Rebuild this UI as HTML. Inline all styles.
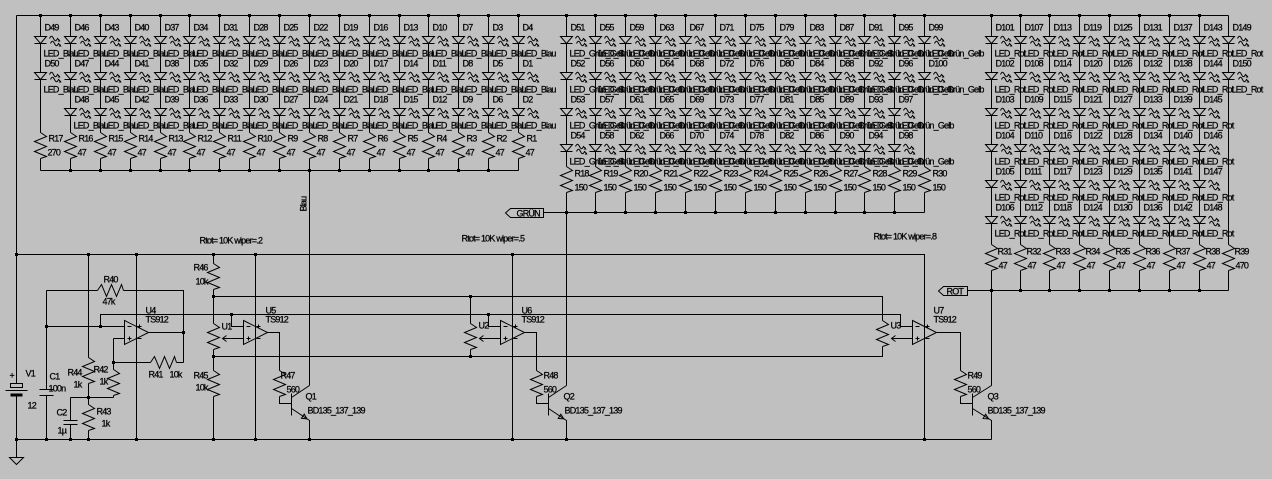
<!DOCTYPE html>
<html><head><meta charset="utf-8"><style>
html,body{margin:0;padding:0;background:#c0c0c0;width:1272px;height:479px;overflow:hidden}
svg{display:block}
text{font-family:"Liberation Sans",sans-serif;font-size:9px;letter-spacing:-0.8px;fill:#000;stroke:#000;stroke-width:0.25}
.w{fill:none;stroke:#000;stroke-width:1}
</style></head><body>
<svg width="1272" height="479" viewBox="0 0 1272 479" xmlns="http://www.w3.org/2000/svg">
<rect width="1272" height="479" fill="#c0c0c0"/>
<defs>
<g id="L"><path d="M-6,0H6L0,7Z" fill="#c0c0c0" stroke="#000"/><path d="M-6,7H6" stroke="#000"/><path d="M9,2c1.5,-3 2.5,-3 4,0s2.5,3 4,0l2,2" fill="none" stroke="#000"/><path d="M20,5h-3l2,-2z" fill="#000"/><path d="M10,7c1.5,-3 2.5,-3 4,0s2.5,3 4,0l2,2" fill="none" stroke="#000"/><path d="M21,10h-3l2,-2z" fill="#000"/></g>
<path id="R" d="M0,0l6,4l-12,5l12,5l-12,5l12,5l-6,2" fill="none" stroke="#000"/>
<path id="RH" d="M0,0l4,-6l5,12l5,-12l5,12l5,-12l2,6" fill="none" stroke="#000"/>
<g id="OA" fill="none" stroke="#000"><path d="M0,-12L24,0L0,12Z"/><path d="M3,-6h4M3,6h4M5,4v4M13,-6h4M15,-8v4M13,6h4"/></g>
<rect id="j" x="-1.5" y="-1.5" width="3" height="3" fill="#000"/>
</defs>
<g transform="translate(0.5 0.5)">
<path class="w" d="M16,15H1228M16,15V383M16,396V457M9,457H23L16,464ZM16,254H924V439M16,439H991M40,170H518M543,212H924M967,290H1228M309,170V385M566,212V385M991,290V385"/>
<path class="w" d="M5,390H27"/><rect x="10" y="383" width="12" height="4" fill="none" stroke="#000"/><rect x="10" y="393" width="12" height="3" fill="#000"/>
<path class="w" d="M46,290V389M39,389H53M39,395H53M46,395V439M46,290H97M123,290H183V362M46,326H124M100,326V314H900V326H912M231,314V326H243M488,314V326H500M113,338H124M113,338V369M113,395V397M113,362H150M176,362H183M148,332H183M70,397H113M88,254V357M88,383V404M88,430V439M70,397V420M63,420H77M63,424H77M70,424V439M136,254V439"/>
<path class="w" d="M213,254V263M213,289V323M213,349V370M213,396V439M213,296H882V320M882,346V356H213M470,296V323M470,349V356M255,254V439M512,254V439M222,338H243M479,338H500M891,338H912M226,335L222,338L226,341M483,335L479,338L483,341M895,335L891,338L895,341"/>
<path class="w" d="M267,332H279V370M279,396V403H291M524,332H536V370M536,396V403H548M936,332H960V370M960,396V403H972"/>
<path class="w" d="M291,393V415M291,397L309,385M291,408L309,420V439M548,393V415M548,397L566,385M548,408L566,420V439M972,393V415M972,397L991,385M972,408L991,420V439"/>
<path class="w" d="M306.5,418.4L300.9,417.8L303.7,413.6ZM563.3,418.4L557.7,417.9L560.3,413.7ZM988.2,418.4L982.6,418.1L985.1,413.7Z"/>
<path class="w" d="M505,212.5L510,208H543V217H510Z"/><text x="516" y="216">GRÜN</text>
<path class="w" d="M938,290.5L943,286H967V295H943Z"/><text x="946" y="294">ROT</text>
<use href="#RH" x="97" y="290"/><use href="#RH" x="150" y="362"/>
<use href="#R" x="88" y="357"/><use href="#R" x="113" y="369"/><use href="#R" x="88" y="404"/>
<use href="#R" x="213" y="263"/><use href="#R" x="213" y="323"/><use href="#R" x="213" y="370"/>
<use href="#R" x="470" y="323"/><use href="#R" x="882" y="320"/>
<use href="#R" x="279" y="370"/><use href="#R" x="536" y="370"/><use href="#R" x="960" y="370"/>
<use href="#OA" x="124" y="332"/><use href="#OA" x="243" y="332"/><use href="#OA" x="500" y="332"/><use href="#OA" x="912" y="332"/>

<text x="9" y="378">+</text><text x="25" y="376">V1</text><text x="27" y="408">12</text>
<text x="49" y="379">C1</text><text x="48" y="391">100n</text>
<text x="56" y="415">C2</text><text x="57" y="433">1&#181;</text>
<text x="67" y="375">R44</text><text x="73" y="387">1k</text>
<text x="93" y="372">R42</text><text x="99" y="384">1k</text>
<text x="96" y="414">R43</text><text x="101" y="426">1k</text>
<text x="103" y="282">R40</text><text x="102" y="304">47k</text>
<text x="148" y="377">R41</text><text x="169" y="377">10k</text>
<text x="145" y="313">U4</text><text x="145" y="322">TS912</text>
<text x="265" y="313">U5</text><text x="265" y="322">TS912</text>
<text x="521" y="313">U6</text><text x="521" y="322">TS912</text>
<text x="933" y="313">U7</text><text x="933" y="322">TS912</text>
<text x="221" y="329">U1</text><text x="478" y="328">U2</text><text x="890" y="328">U3</text>
<text x="193" y="270">R46</text><text x="195" y="284">10k</text>
<text x="193" y="378">R45</text><text x="195" y="390">10k</text>
<text x="280" y="378">R47</text><text x="286" y="392">560</text>
<text x="543" y="378">R48</text><text x="543" y="392">560</text>
<text x="967" y="378">R49</text><text x="967" y="392">560</text>
<text x="305" y="399">Q1</text><text x="307" y="413">BD135_137_139</text>
<text x="563" y="399">Q2</text><text x="564" y="413">BD135_137_139</text>
<text x="987" y="399">Q3</text><text x="987" y="413">BD135_137_139</text>
<text x="199" y="243">Rtot= 10K wiper=.2</text>
<text x="461" y="241">Rtot= 10K wiper=.5</text>
<text x="873" y="239">Rtot= 10K wiper=.8</text>
<text transform="translate(306 211) rotate(-90)">Blau</text>

<g>
<use href="#j" x="40" y="15"/><use href="#j" x="70" y="15"/><use href="#j" x="100" y="15"/><use href="#j" x="130" y="15"/><use href="#j" x="160" y="15"/><use href="#j" x="189" y="15"/><use href="#j" x="219" y="15"/><use href="#j" x="249" y="15"/><use href="#j" x="279" y="15"/><use href="#j" x="309" y="15"/><use href="#j" x="339" y="15"/><use href="#j" x="369" y="15"/><use href="#j" x="399" y="15"/><use href="#j" x="428" y="15"/><use href="#j" x="458" y="15"/><use href="#j" x="488" y="15"/><use href="#j" x="518" y="15"/>
<use href="#j" x="566" y="15"/><use href="#j" x="595" y="15"/><use href="#j" x="625" y="15"/><use href="#j" x="655" y="15"/><use href="#j" x="685" y="15"/><use href="#j" x="715" y="15"/><use href="#j" x="745" y="15"/><use href="#j" x="775" y="15"/><use href="#j" x="805" y="15"/><use href="#j" x="835" y="15"/><use href="#j" x="864" y="15"/><use href="#j" x="894" y="15"/><use href="#j" x="924" y="15"/>
<use href="#j" x="991" y="15"/><use href="#j" x="1020" y="15"/><use href="#j" x="1049" y="15"/><use href="#j" x="1079" y="15"/><use href="#j" x="1109" y="15"/><use href="#j" x="1139" y="15"/><use href="#j" x="1169" y="15"/><use href="#j" x="1199" y="15"/>
<use href="#j" x="70" y="170"/><use href="#j" x="100" y="170"/><use href="#j" x="130" y="170"/><use href="#j" x="160" y="170"/><use href="#j" x="189" y="170"/><use href="#j" x="219" y="170"/><use href="#j" x="249" y="170"/><use href="#j" x="279" y="170"/><use href="#j" x="309" y="170"/><use href="#j" x="339" y="170"/><use href="#j" x="369" y="170"/><use href="#j" x="399" y="170"/><use href="#j" x="428" y="170"/><use href="#j" x="458" y="170"/><use href="#j" x="488" y="170"/>
<use href="#j" x="566" y="212"/><use href="#j" x="595" y="212"/><use href="#j" x="625" y="212"/><use href="#j" x="655" y="212"/><use href="#j" x="685" y="212"/><use href="#j" x="715" y="212"/><use href="#j" x="745" y="212"/><use href="#j" x="775" y="212"/><use href="#j" x="805" y="212"/><use href="#j" x="835" y="212"/><use href="#j" x="864" y="212"/><use href="#j" x="894" y="212"/>
<use href="#j" x="991" y="290"/><use href="#j" x="1020" y="290"/><use href="#j" x="1049" y="290"/><use href="#j" x="1079" y="290"/><use href="#j" x="1109" y="290"/><use href="#j" x="1139" y="290"/><use href="#j" x="1169" y="290"/><use href="#j" x="1199" y="290"/>
<use href="#j" x="16" y="254"/><use href="#j" x="88" y="254"/><use href="#j" x="136" y="254"/><use href="#j" x="213" y="254"/><use href="#j" x="255" y="254"/><use href="#j" x="512" y="254"/>
<use href="#j" x="213" y="296"/><use href="#j" x="470" y="296"/><use href="#j" x="231" y="314"/><use href="#j" x="488" y="314"/><use href="#j" x="213" y="356"/><use href="#j" x="470" y="356"/>
<use href="#j" x="46" y="326"/><use href="#j" x="100" y="326"/><use href="#j" x="183" y="332"/><use href="#j" x="113" y="362"/><use href="#j" x="88" y="397"/>
<use href="#j" x="16" y="439"/><use href="#j" x="46" y="439"/><use href="#j" x="70" y="439"/><use href="#j" x="88" y="439"/><use href="#j" x="136" y="439"/><use href="#j" x="213" y="439"/><use href="#j" x="255" y="439"/><use href="#j" x="309" y="439"/><use href="#j" x="512" y="439"/><use href="#j" x="566" y="439"/><use href="#j" x="924" y="439"/>
</g>

<g transform="translate(40 0)"><path class="w" d="M0,15V132M0,158V170"/><use href="#R" y="132"/><use href="#L" y="36"/><use href="#L" y="72"/><text x="4" y="30">D49</text><text x="3" y="56">LED_Blau</text><text x="4" y="66">D50</text><text x="3" y="92">LED_Blau</text><text x="8" y="141">R17</text><text x="7" y="155">270</text></g>
<g transform="translate(70 0)"><path class="w" d="M0,15V132M0,158V170"/><use href="#R" y="132"/><use href="#L" y="36"/><use href="#L" y="72"/><use href="#L" y="108"/><text x="4" y="30">D46</text><text x="3" y="56">LED_Blau</text><text x="4" y="66">D47</text><text x="3" y="92">LED_Blau</text><text x="4" y="102">D48</text><text x="3" y="128">LED_Blau</text><text x="8" y="141">R16</text><text x="7" y="155">47</text></g>
<g transform="translate(100 0)"><path class="w" d="M0,15V132M0,158V170"/><use href="#R" y="132"/><use href="#L" y="36"/><use href="#L" y="72"/><use href="#L" y="108"/><text x="4" y="30">D43</text><text x="3" y="56">LED_Blau</text><text x="4" y="66">D44</text><text x="3" y="92">LED_Blau</text><text x="4" y="102">D45</text><text x="3" y="128">LED_Blau</text><text x="8" y="141">R15</text><text x="7" y="155">47</text></g>
<g transform="translate(130 0)"><path class="w" d="M0,15V132M0,158V170"/><use href="#R" y="132"/><use href="#L" y="36"/><use href="#L" y="72"/><use href="#L" y="108"/><text x="4" y="30">D40</text><text x="3" y="56">LED_Blau</text><text x="4" y="66">D41</text><text x="3" y="92">LED_Blau</text><text x="4" y="102">D42</text><text x="3" y="128">LED_Blau</text><text x="8" y="141">R14</text><text x="7" y="155">47</text></g>
<g transform="translate(160 0)"><path class="w" d="M0,15V132M0,158V170"/><use href="#R" y="132"/><use href="#L" y="36"/><use href="#L" y="72"/><use href="#L" y="108"/><text x="4" y="30">D37</text><text x="3" y="56">LED_Blau</text><text x="4" y="66">D38</text><text x="3" y="92">LED_Blau</text><text x="4" y="102">D39</text><text x="3" y="128">LED_Blau</text><text x="8" y="141">R13</text><text x="7" y="155">47</text></g>
<g transform="translate(189 0)"><path class="w" d="M0,15V132M0,158V170"/><use href="#R" y="132"/><use href="#L" y="36"/><use href="#L" y="72"/><use href="#L" y="108"/><text x="4" y="30">D34</text><text x="3" y="56">LED_Blau</text><text x="4" y="66">D35</text><text x="3" y="92">LED_Blau</text><text x="4" y="102">D36</text><text x="3" y="128">LED_Blau</text><text x="8" y="141">R12</text><text x="7" y="155">47</text></g>
<g transform="translate(219 0)"><path class="w" d="M0,15V132M0,158V170"/><use href="#R" y="132"/><use href="#L" y="36"/><use href="#L" y="72"/><use href="#L" y="108"/><text x="4" y="30">D31</text><text x="3" y="56">LED_Blau</text><text x="4" y="66">D32</text><text x="3" y="92">LED_Blau</text><text x="4" y="102">D33</text><text x="3" y="128">LED_Blau</text><text x="8" y="141">R11</text><text x="7" y="155">47</text></g>
<g transform="translate(249 0)"><path class="w" d="M0,15V132M0,158V170"/><use href="#R" y="132"/><use href="#L" y="36"/><use href="#L" y="72"/><use href="#L" y="108"/><text x="4" y="30">D28</text><text x="3" y="56">LED_Blau</text><text x="4" y="66">D29</text><text x="3" y="92">LED_Blau</text><text x="4" y="102">D30</text><text x="3" y="128">LED_Blau</text><text x="8" y="141">R10</text><text x="7" y="155">47</text></g>
<g transform="translate(279 0)"><path class="w" d="M0,15V132M0,158V170"/><use href="#R" y="132"/><use href="#L" y="36"/><use href="#L" y="72"/><use href="#L" y="108"/><text x="4" y="30">D25</text><text x="3" y="56">LED_Blau</text><text x="4" y="66">D26</text><text x="3" y="92">LED_Blau</text><text x="4" y="102">D27</text><text x="3" y="128">LED_Blau</text><text x="8" y="141">R9</text><text x="7" y="155">47</text></g>
<g transform="translate(309 0)"><path class="w" d="M0,15V132M0,158V170"/><use href="#R" y="132"/><use href="#L" y="36"/><use href="#L" y="72"/><use href="#L" y="108"/><text x="4" y="30">D22</text><text x="3" y="56">LED_Blau</text><text x="4" y="66">D23</text><text x="3" y="92">LED_Blau</text><text x="4" y="102">D24</text><text x="3" y="128">LED_Blau</text><text x="8" y="141">R8</text><text x="7" y="155">47</text></g>
<g transform="translate(339 0)"><path class="w" d="M0,15V132M0,158V170"/><use href="#R" y="132"/><use href="#L" y="36"/><use href="#L" y="72"/><use href="#L" y="108"/><text x="4" y="30">D19</text><text x="3" y="56">LED_Blau</text><text x="4" y="66">D20</text><text x="3" y="92">LED_Blau</text><text x="4" y="102">D21</text><text x="3" y="128">LED_Blau</text><text x="8" y="141">R7</text><text x="7" y="155">47</text></g>
<g transform="translate(369 0)"><path class="w" d="M0,15V132M0,158V170"/><use href="#R" y="132"/><use href="#L" y="36"/><use href="#L" y="72"/><use href="#L" y="108"/><text x="4" y="30">D16</text><text x="3" y="56">LED_Blau</text><text x="4" y="66">D17</text><text x="3" y="92">LED_Blau</text><text x="4" y="102">D18</text><text x="3" y="128">LED_Blau</text><text x="8" y="141">R6</text><text x="7" y="155">47</text></g>
<g transform="translate(399 0)"><path class="w" d="M0,15V132M0,158V170"/><use href="#R" y="132"/><use href="#L" y="36"/><use href="#L" y="72"/><use href="#L" y="108"/><text x="4" y="30">D13</text><text x="3" y="56">LED_Blau</text><text x="4" y="66">D14</text><text x="3" y="92">LED_Blau</text><text x="4" y="102">D15</text><text x="3" y="128">LED_Blau</text><text x="8" y="141">R5</text><text x="7" y="155">47</text></g>
<g transform="translate(428 0)"><path class="w" d="M0,15V132M0,158V170"/><use href="#R" y="132"/><use href="#L" y="36"/><use href="#L" y="72"/><use href="#L" y="108"/><text x="4" y="30">D10</text><text x="3" y="56">LED_Blau</text><text x="4" y="66">D11</text><text x="3" y="92">LED_Blau</text><text x="4" y="102">D12</text><text x="3" y="128">LED_Blau</text><text x="8" y="141">R4</text><text x="7" y="155">47</text></g>
<g transform="translate(458 0)"><path class="w" d="M0,15V132M0,158V170"/><use href="#R" y="132"/><use href="#L" y="36"/><use href="#L" y="72"/><use href="#L" y="108"/><text x="4" y="30">D7</text><text x="3" y="56">LED_Blau</text><text x="4" y="66">D8</text><text x="3" y="92">LED_Blau</text><text x="4" y="102">D9</text><text x="3" y="128">LED_Blau</text><text x="8" y="141">R3</text><text x="7" y="155">47</text></g>
<g transform="translate(488 0)"><path class="w" d="M0,15V132M0,158V170"/><use href="#R" y="132"/><use href="#L" y="36"/><use href="#L" y="72"/><use href="#L" y="108"/><text x="4" y="30">D3</text><text x="3" y="56">LED_Blau</text><text x="4" y="66">D5</text><text x="3" y="92">LED_Blau</text><text x="4" y="102">D6</text><text x="3" y="128">LED_Blau</text><text x="8" y="141">R2</text><text x="7" y="155">47</text></g>
<g transform="translate(518 0)"><path class="w" d="M0,15V132M0,158V170"/><use href="#R" y="132"/><use href="#L" y="36"/><use href="#L" y="72"/><use href="#L" y="108"/><text x="4" y="30">D4</text><text x="3" y="56">LED_Blau</text><text x="4" y="66">D1</text><text x="3" y="92">LED_Blau</text><text x="4" y="102">D2</text><text x="3" y="128">LED_Blau</text><text x="8" y="141">R1</text><text x="7" y="155">47</text></g>

<g transform="translate(566 0)"><path class="w" d="M0,15V166M0,192V212"/><use href="#R" y="166"/><use href="#L" y="36"/><use href="#L" y="72"/><use href="#L" y="108"/><use href="#L" y="144"/><text x="4" y="30">D51</text><text x="3" y="56">LED_Grün_Gelb</text><text x="4" y="66">D52</text><text x="3" y="92">LED_Grün_Gelb</text><text x="4" y="102">D53</text><text x="3" y="128">LED_Grün_Gelb</text><text x="4" y="138">D54</text><text x="3" y="164">LED_Grün_Gelb</text><text x="8" y="176">R18</text><text x="8" y="190">150</text></g>
<g transform="translate(595 0)"><path class="w" d="M0,15V166M0,192V212"/><use href="#R" y="166"/><use href="#L" y="36"/><use href="#L" y="72"/><use href="#L" y="108"/><use href="#L" y="144"/><text x="4" y="30">D55</text><text x="3" y="56">LED_Grün_Gelb</text><text x="4" y="66">D56</text><text x="3" y="92">LED_Grün_Gelb</text><text x="4" y="102">D57</text><text x="3" y="128">LED_Grün_Gelb</text><text x="4" y="138">D58</text><text x="3" y="164">LED_Grün_Gelb</text><text x="8" y="176">R19</text><text x="8" y="190">150</text></g>
<g transform="translate(625 0)"><path class="w" d="M0,15V166M0,192V212"/><use href="#R" y="166"/><use href="#L" y="36"/><use href="#L" y="72"/><use href="#L" y="108"/><use href="#L" y="144"/><text x="4" y="30">D59</text><text x="3" y="56">LED_Grün_Gelb</text><text x="4" y="66">D60</text><text x="3" y="92">LED_Grün_Gelb</text><text x="4" y="102">D61</text><text x="3" y="128">LED_Grün_Gelb</text><text x="4" y="138">D62</text><text x="3" y="164">LED_Grün_Gelb</text><text x="8" y="176">R20</text><text x="8" y="190">150</text></g>
<g transform="translate(655 0)"><path class="w" d="M0,15V166M0,192V212"/><use href="#R" y="166"/><use href="#L" y="36"/><use href="#L" y="72"/><use href="#L" y="108"/><use href="#L" y="144"/><text x="4" y="30">D63</text><text x="3" y="56">LED_Grün_Gelb</text><text x="4" y="66">D64</text><text x="3" y="92">LED_Grün_Gelb</text><text x="4" y="102">D65</text><text x="3" y="128">LED_Grün_Gelb</text><text x="4" y="138">D66</text><text x="3" y="164">LED_Grün_Gelb</text><text x="8" y="176">R21</text><text x="8" y="190">150</text></g>
<g transform="translate(685 0)"><path class="w" d="M0,15V166M0,192V212"/><use href="#R" y="166"/><use href="#L" y="36"/><use href="#L" y="72"/><use href="#L" y="108"/><use href="#L" y="144"/><text x="4" y="30">D67</text><text x="3" y="56">LED_Grün_Gelb</text><text x="4" y="66">D68</text><text x="3" y="92">LED_Grün_Gelb</text><text x="4" y="102">D69</text><text x="3" y="128">LED_Grün_Gelb</text><text x="4" y="138">D70</text><text x="3" y="164">LED_Grün_Gelb</text><text x="8" y="176">R22</text><text x="8" y="190">150</text></g>
<g transform="translate(715 0)"><path class="w" d="M0,15V166M0,192V212"/><use href="#R" y="166"/><use href="#L" y="36"/><use href="#L" y="72"/><use href="#L" y="108"/><use href="#L" y="144"/><text x="4" y="30">D71</text><text x="3" y="56">LED_Grün_Gelb</text><text x="4" y="66">D72</text><text x="3" y="92">LED_Grün_Gelb</text><text x="4" y="102">D73</text><text x="3" y="128">LED_Grün_Gelb</text><text x="4" y="138">D74</text><text x="3" y="164">LED_Grün_Gelb</text><text x="8" y="176">R23</text><text x="8" y="190">150</text></g>
<g transform="translate(745 0)"><path class="w" d="M0,15V166M0,192V212"/><use href="#R" y="166"/><use href="#L" y="36"/><use href="#L" y="72"/><use href="#L" y="108"/><use href="#L" y="144"/><text x="4" y="30">D75</text><text x="3" y="56">LED_Grün_Gelb</text><text x="4" y="66">D76</text><text x="3" y="92">LED_Grün_Gelb</text><text x="4" y="102">D77</text><text x="3" y="128">LED_Grün_Gelb</text><text x="4" y="138">D78</text><text x="3" y="164">LED_Grün_Gelb</text><text x="8" y="176">R24</text><text x="8" y="190">150</text></g>
<g transform="translate(775 0)"><path class="w" d="M0,15V166M0,192V212"/><use href="#R" y="166"/><use href="#L" y="36"/><use href="#L" y="72"/><use href="#L" y="108"/><use href="#L" y="144"/><text x="4" y="30">D79</text><text x="3" y="56">LED_Grün_Gelb</text><text x="4" y="66">D80</text><text x="3" y="92">LED_Grün_Gelb</text><text x="4" y="102">D81</text><text x="3" y="128">LED_Grün_Gelb</text><text x="4" y="138">D82</text><text x="3" y="164">LED_Grün_Gelb</text><text x="8" y="176">R25</text><text x="8" y="190">150</text></g>
<g transform="translate(805 0)"><path class="w" d="M0,15V166M0,192V212"/><use href="#R" y="166"/><use href="#L" y="36"/><use href="#L" y="72"/><use href="#L" y="108"/><use href="#L" y="144"/><text x="4" y="30">D83</text><text x="3" y="56">LED_Grün_Gelb</text><text x="4" y="66">D84</text><text x="3" y="92">LED_Grün_Gelb</text><text x="4" y="102">D85</text><text x="3" y="128">LED_Grün_Gelb</text><text x="4" y="138">D86</text><text x="3" y="164">LED_Grün_Gelb</text><text x="8" y="176">R26</text><text x="8" y="190">150</text></g>
<g transform="translate(835 0)"><path class="w" d="M0,15V166M0,192V212"/><use href="#R" y="166"/><use href="#L" y="36"/><use href="#L" y="72"/><use href="#L" y="108"/><use href="#L" y="144"/><text x="4" y="30">D87</text><text x="3" y="56">LED_Grün_Gelb</text><text x="4" y="66">D88</text><text x="3" y="92">LED_Grün_Gelb</text><text x="4" y="102">D89</text><text x="3" y="128">LED_Grün_Gelb</text><text x="4" y="138">D90</text><text x="3" y="164">LED_Grün_Gelb</text><text x="8" y="176">R27</text><text x="8" y="190">150</text></g>
<g transform="translate(864 0)"><path class="w" d="M0,15V166M0,192V212"/><use href="#R" y="166"/><use href="#L" y="36"/><use href="#L" y="72"/><use href="#L" y="108"/><use href="#L" y="144"/><text x="4" y="30">D91</text><text x="3" y="56">LED_Grün_Gelb</text><text x="4" y="66">D92</text><text x="3" y="92">LED_Grün_Gelb</text><text x="4" y="102">D93</text><text x="3" y="128">LED_Grün_Gelb</text><text x="4" y="138">D94</text><text x="3" y="164">LED_Grün_Gelb</text><text x="8" y="176">R28</text><text x="8" y="190">150</text></g>
<g transform="translate(894 0)"><path class="w" d="M0,15V166M0,192V212"/><use href="#R" y="166"/><use href="#L" y="36"/><use href="#L" y="72"/><use href="#L" y="108"/><use href="#L" y="144"/><text x="4" y="30">D95</text><text x="3" y="56">LED_Grün_Gelb</text><text x="4" y="66">D96</text><text x="3" y="92">LED_Grün_Gelb</text><text x="4" y="102">D97</text><text x="3" y="128">LED_Grün_Gelb</text><text x="4" y="138">D98</text><text x="3" y="164">LED_Grün_Gelb</text><text x="8" y="176">R29</text><text x="8" y="190">150</text></g>
<g transform="translate(924 0)"><path class="w" d="M0,15V166M0,192V212"/><use href="#R" y="166"/><use href="#L" y="36"/><use href="#L" y="72"/><text x="4" y="30">D99</text><text x="3" y="56">LED_Grün_Gelb</text><text x="4" y="66">D100</text><text x="3" y="92">LED_Grün_Gelb</text><text x="8" y="176">R30</text><text x="8" y="190">150</text></g>

<g transform="translate(991 0)"><path class="w" d="M0,15V244M0,270V290"/><use href="#R" y="244"/><use href="#L" y="36"/><use href="#L" y="72"/><use href="#L" y="108"/><use href="#L" y="144"/><use href="#L" y="180"/><use href="#L" y="216"/><text x="4" y="30">D101</text><text x="3" y="56">LED_Rot</text><text x="4" y="66">D102</text><text x="3" y="92">LED_Rot</text><text x="4" y="102">D103</text><text x="3" y="128">LED_Rot</text><text x="4" y="138">D104</text><text x="3" y="164">LED_Rot</text><text x="4" y="174">D105</text><text x="3" y="200">LED_Rot</text><text x="4" y="210">D106</text><text x="3" y="236">LED_Rot</text><text x="6" y="254">R31</text><text x="7" y="268">47</text></g>
<g transform="translate(1020 0)"><path class="w" d="M0,15V244M0,270V290"/><use href="#R" y="244"/><use href="#L" y="36"/><use href="#L" y="72"/><use href="#L" y="108"/><use href="#L" y="144"/><use href="#L" y="180"/><use href="#L" y="216"/><text x="4" y="30">D107</text><text x="3" y="56">LED_Rot</text><text x="4" y="66">D108</text><text x="3" y="92">LED_Rot</text><text x="4" y="102">D109</text><text x="3" y="128">LED_Rot</text><text x="4" y="138">D110</text><text x="3" y="164">LED_Rot</text><text x="4" y="174">D111</text><text x="3" y="200">LED_Rot</text><text x="4" y="210">D112</text><text x="3" y="236">LED_Rot</text><text x="6" y="254">R32</text><text x="7" y="268">47</text></g>
<g transform="translate(1049 0)"><path class="w" d="M0,15V244M0,270V290"/><use href="#R" y="244"/><use href="#L" y="36"/><use href="#L" y="72"/><use href="#L" y="108"/><use href="#L" y="144"/><use href="#L" y="180"/><use href="#L" y="216"/><text x="4" y="30">D113</text><text x="3" y="56">LED_Rot</text><text x="4" y="66">D114</text><text x="3" y="92">LED_Rot</text><text x="4" y="102">D115</text><text x="3" y="128">LED_Rot</text><text x="4" y="138">D116</text><text x="3" y="164">LED_Rot</text><text x="4" y="174">D117</text><text x="3" y="200">LED_Rot</text><text x="4" y="210">D118</text><text x="3" y="236">LED_Rot</text><text x="6" y="254">R33</text><text x="7" y="268">47</text></g>
<g transform="translate(1079 0)"><path class="w" d="M0,15V244M0,270V290"/><use href="#R" y="244"/><use href="#L" y="36"/><use href="#L" y="72"/><use href="#L" y="108"/><use href="#L" y="144"/><use href="#L" y="180"/><use href="#L" y="216"/><text x="4" y="30">D119</text><text x="3" y="56">LED_Rot</text><text x="4" y="66">D120</text><text x="3" y="92">LED_Rot</text><text x="4" y="102">D121</text><text x="3" y="128">LED_Rot</text><text x="4" y="138">D122</text><text x="3" y="164">LED_Rot</text><text x="4" y="174">D123</text><text x="3" y="200">LED_Rot</text><text x="4" y="210">D124</text><text x="3" y="236">LED_Rot</text><text x="6" y="254">R34</text><text x="7" y="268">47</text></g>
<g transform="translate(1109 0)"><path class="w" d="M0,15V244M0,270V290"/><use href="#R" y="244"/><use href="#L" y="36"/><use href="#L" y="72"/><use href="#L" y="108"/><use href="#L" y="144"/><use href="#L" y="180"/><use href="#L" y="216"/><text x="4" y="30">D125</text><text x="3" y="56">LED_Rot</text><text x="4" y="66">D126</text><text x="3" y="92">LED_Rot</text><text x="4" y="102">D127</text><text x="3" y="128">LED_Rot</text><text x="4" y="138">D128</text><text x="3" y="164">LED_Rot</text><text x="4" y="174">D129</text><text x="3" y="200">LED_Rot</text><text x="4" y="210">D130</text><text x="3" y="236">LED_Rot</text><text x="6" y="254">R35</text><text x="7" y="268">47</text></g>
<g transform="translate(1139 0)"><path class="w" d="M0,15V244M0,270V290"/><use href="#R" y="244"/><use href="#L" y="36"/><use href="#L" y="72"/><use href="#L" y="108"/><use href="#L" y="144"/><use href="#L" y="180"/><use href="#L" y="216"/><text x="4" y="30">D131</text><text x="3" y="56">LED_Rot</text><text x="4" y="66">D132</text><text x="3" y="92">LED_Rot</text><text x="4" y="102">D133</text><text x="3" y="128">LED_Rot</text><text x="4" y="138">D134</text><text x="3" y="164">LED_Rot</text><text x="4" y="174">D135</text><text x="3" y="200">LED_Rot</text><text x="4" y="210">D136</text><text x="3" y="236">LED_Rot</text><text x="6" y="254">R36</text><text x="7" y="268">47</text></g>
<g transform="translate(1169 0)"><path class="w" d="M0,15V244M0,270V290"/><use href="#R" y="244"/><use href="#L" y="36"/><use href="#L" y="72"/><use href="#L" y="108"/><use href="#L" y="144"/><use href="#L" y="180"/><use href="#L" y="216"/><text x="4" y="30">D137</text><text x="3" y="56">LED_Rot</text><text x="4" y="66">D138</text><text x="3" y="92">LED_Rot</text><text x="4" y="102">D139</text><text x="3" y="128">LED_Rot</text><text x="4" y="138">D140</text><text x="3" y="164">LED_Rot</text><text x="4" y="174">D141</text><text x="3" y="200">LED_Rot</text><text x="4" y="210">D142</text><text x="3" y="236">LED_Rot</text><text x="6" y="254">R37</text><text x="7" y="268">47</text></g>
<g transform="translate(1199 0)"><path class="w" d="M0,15V244M0,270V290"/><use href="#R" y="244"/><use href="#L" y="36"/><use href="#L" y="72"/><use href="#L" y="108"/><use href="#L" y="144"/><use href="#L" y="180"/><use href="#L" y="216"/><text x="4" y="30">D143</text><text x="3" y="56">LED_Rot</text><text x="4" y="66">D144</text><text x="3" y="92">LED_Rot</text><text x="4" y="102">D145</text><text x="3" y="128">LED_Rot</text><text x="4" y="138">D146</text><text x="3" y="164">LED_Rot</text><text x="4" y="174">D147</text><text x="3" y="200">LED_Rot</text><text x="4" y="210">D148</text><text x="3" y="236">LED_Rot</text><text x="6" y="254">R38</text><text x="7" y="268">47</text></g>
<g transform="translate(1228 0)"><path class="w" d="M0,15V244M0,270V290"/><use href="#R" y="244"/><use href="#L" y="36"/><use href="#L" y="72"/><text x="4" y="30">D149</text><text x="3" y="56">LED_Rot</text><text x="4" y="66">D150</text><text x="3" y="92">LED_Rot</text><text x="6" y="254">R39</text><text x="7" y="268">470</text></g>
</g>
</svg>
</body></html>
